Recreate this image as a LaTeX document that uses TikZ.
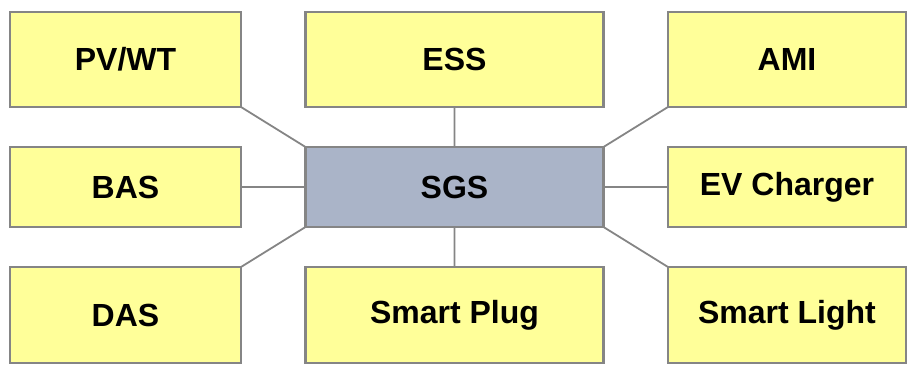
\documentclass[tikz,border=0pt]{standalone}
\usepackage{fontspec}
\setmainfont{Liberation Sans}
\definecolor{boxyellow}{HTML}{FFFF99}
\definecolor{boxgray}{HTML}{858585}
\definecolor{hubblue}{HTML}{AAB4C8}
\tikzstyle{unit}=[rectangle,draw=boxgray,fill=boxyellow,line width=2.4pt,inner sep=0pt,outer sep=0pt,font=\fontsize{32}{38}\selectfont\bfseries]
\tikzstyle{hub}=[unit,fill=hubblue]
\tikzstyle{link}=[draw=boxgray,line width=1.8pt]

\begin{document}
\begin{tikzpicture}[x=1pt,y=-1pt]
                \useasboundingbox (0,0) rectangle (914,369);
                % top row
                \node[unit, minimum width=231pt, minimum height=95pt] (PV) at (125.5,59.5) {PV/WT};
                \node[unit, minimum width=298pt, minimum height=95pt] (ESS) at (454.5,59.5) {ESS};
                \node[unit, minimum width=238pt, minimum height=95pt] (AMI) at (787,59.5) {AMI};
                % middle row
                \node[unit, minimum width=231pt, minimum height=80pt] (BAS) at (125.5,187) {BAS};
                \node[hub, minimum width=298pt, minimum height=80pt] (SGS) at (454.5,187) {SGS};
                \node[unit, minimum width=238pt, minimum height=80pt] (EV) at (787,187) {EV Charger};
                % bottom row
                \node[unit, minimum width=231pt, minimum height=96pt] (DAS) at (125.5,315) {DAS};
                \node[unit, minimum width=298pt, minimum height=96pt] (Plug) at (454.5,315) {Smart Plug};
                \node[unit, minimum width=238pt, minimum height=96pt] (Light) at (787,315) {Smart Light};
                % links to SGS
                \path[link] (PV.south east) -- (SGS.north west)
                    (ESS.south) -- (SGS.north)
                    (AMI.south west) -- (SGS.north east)
                    (BAS.east) -- (SGS.west)
                    (EV.west) -- (SGS.east)
                    (DAS.north east) -- (SGS.south west)
                    (Plug.north) -- (SGS.south)
                    (Light.north west) -- (SGS.south east);
            \end{tikzpicture}
\end{document}
